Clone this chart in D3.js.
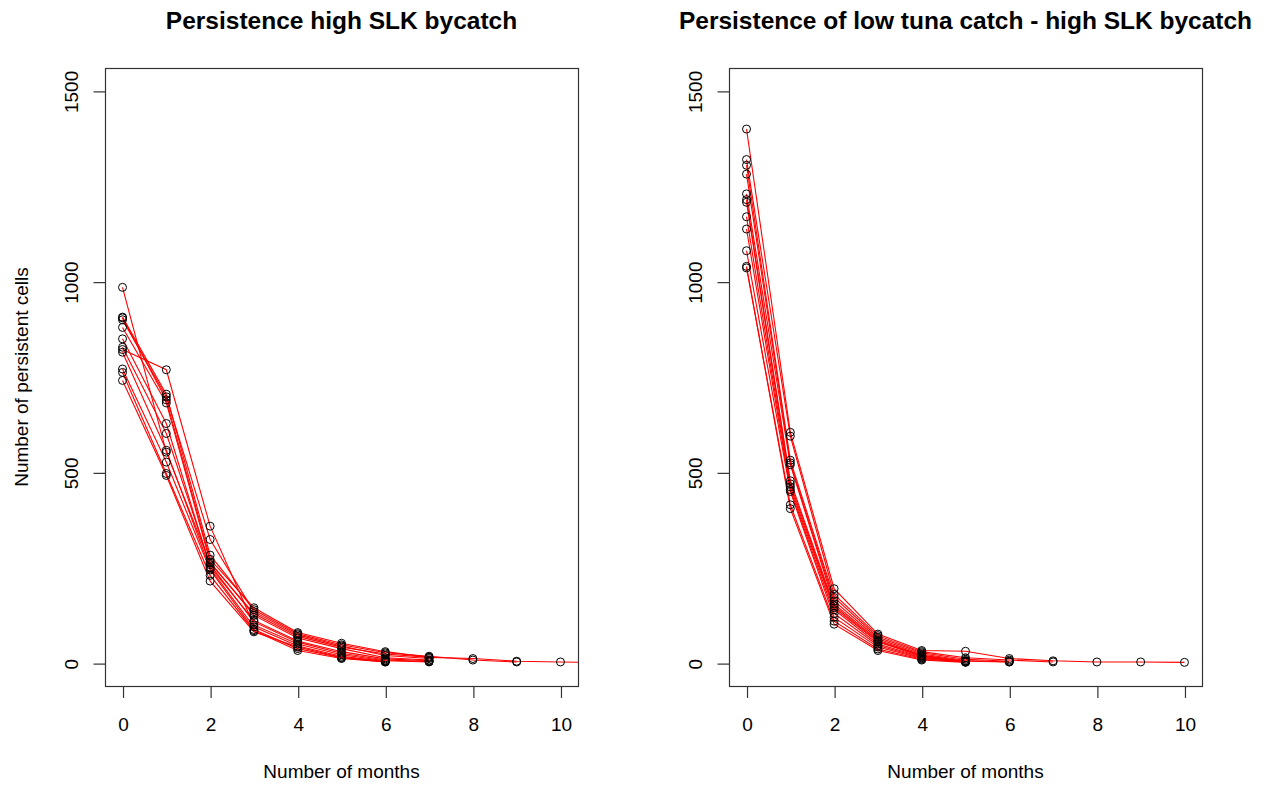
<!DOCTYPE html>
<html><head><meta charset="utf-8">
<script src="https://cdn.jsdelivr.net/npm/d3@7"></script>
<style>
body{margin:0;background:#fff}
svg{display:block}
text{font-family:"Liberation Sans",Arial,Helvetica,sans-serif;fill:#000}
</style></head>
<body><svg id="c" width="1265" height="786"></svg>
<script>
const months = [0,1,2,3,4,5,6,7,8,9,10,11];
const leftTitle = "Persistence high SLK bycatch";
const rightTitle = "Persistence of low tuna catch - high SLK bycatch";
const xLabel = "Number of months";
const yLabel = "Number of persistent cells";
const xTicks = [0,2,4,6,8,10];
const yTicks = [0,500,1000,1500];

// Left panel: persistent cells per series, indexed by month
const leftSeries = [
  [985, 553, 262, 130, 70, 42, 24, 15, 12, 5, 3, 1],
  [907, 705, 283, 140, 77, 48, 27, 18, 8, 3],
  [905, 690, 272, 145, 80, 52, 30, 15],
  [900, 698, 324, 135, 74, 45, 20, 12],
  [880, 682, 265, 125, 66, 38, 14, 8],
  [850, 628, 252, 112, 58, 30, 11, 6],
  [828, 602, 258, 108, 55, 26, 8, 4],
  [822, 769, 359, 100, 50, 22, 6, 3],
  [815, 558, 248, 95, 45, 18, 4],
  [771, 527, 244, 88, 38, 14, 3],
  [762, 497, 230, 85, 33, 12, 3],
  [741, 492, 215, 82, 42, 15, 5]
];

// Right panel
const rightSeries = [
  [1400, 605, 195, 76, 33, 31, 12, 6, 3, 3, 2],
  [1320, 595, 180, 72, 30, 14, 8, 3],
  [1305, 532, 172, 68, 27, 10, 5],
  [1282, 525, 163, 64, 24, 7, 3],
  [1230, 520, 155, 60, 21, 5, 3],
  [1215, 478, 150, 57, 19, 4],
  [1208, 470, 145, 55, 18, 4],
  [1170, 462, 140, 50, 16, 3],
  [1138, 455, 130, 46, 14, 5],
  [1081, 450, 120, 42, 12, 3],
  [1036, 415, 110, 37, 10, 4],
  [1040, 405, 102, 33, 8, 2]
];

const svg = d3.select("#c");
svg.append("rect").attr("width",1265).attr("height",786).attr("fill","#fff");

const W = 473, TOP = 68, BOT = 686;

function panel(x0, title, series, showYLabel, id) {
  const x = d3.scaleLinear().domain([-0.4, 10.4]).range([x0, x0 + W]);
  const y = d3.scaleLinear().domain([-60, 1560]).range([BOT, TOP]);
  const g = svg.append("g");

  g.append("clipPath").attr("id", id).append("rect")
    .attr("x", x0).attr("y", TOP).attr("width", W).attr("height", BOT - TOP);

  const line = d3.line().x((d, i) => x(months[i])).y(d => y(d));
  const plot = g.append("g").attr("clip-path", `url(#${id})`);
  plot.selectAll("path.s").data(series).join("path")
    .attr("class", "s").attr("d", line)
    .attr("fill", "none").attr("stroke", "#ff0000").attr("stroke-width", 1.1);

  const pts = [];
  series.forEach(s => s.forEach((v, i) => { if (months[i] <= 10) pts.push([months[i], v]); }));
  plot.selectAll("circle").data(pts).join("circle")
    .attr("cx", d => x(d[0])).attr("cy", d => y(d[1])).attr("r", 4)
    .attr("fill", "none").attr("stroke", "#000").attr("stroke-width", 1);

  // box
  g.append("rect").attr("x", x0 + 0.5).attr("y", TOP + 0.5)
    .attr("width", W).attr("height", BOT - TOP)
    .attr("fill", "none").attr("stroke", "#333").attr("stroke-width", 1.2);

  // x axis
  const xa = g.append("g").attr("transform", `translate(0.5,${BOT + 0.5})`)
    .call(d3.axisBottom(x).tickValues(xTicks).tickSize(11.5).tickFormat(d3.format("d")));
  xa.select(".domain").remove();
  xa.selectAll("line").attr("stroke", "#333").attr("stroke-width", 1.2);
  xa.selectAll("text").attr("y", 44).attr("dy", null)
    .attr("font-size", 19).attr("font-family", '"Liberation Sans",Arial,sans-serif').attr("fill", "#000");

  // y axis
  const ya = g.append("g").attr("transform", `translate(${x0 + 0.5},0.5)`)
    .call(d3.axisLeft(y).tickValues(yTicks).tickSize(12).tickFormat(d3.format("d")));
  ya.select(".domain").remove();
  ya.selectAll("line").attr("stroke", "#333").attr("stroke-width", 1.2);
  ya.selectAll("text").attr("x", null).attr("dy", null)
    .attr("transform", "translate(-28,0) rotate(-90)")
    .attr("text-anchor", "middle")
    .attr("font-size", 19).attr("font-family", '"Liberation Sans",Arial,sans-serif').attr("fill", "#000");

  // title
  g.append("text").attr("x", x0 + W / 2).attr("y", 29).attr("text-anchor", "middle")
    .attr("font-size", 24.5).attr("font-weight", "bold").text(title);

  // x label
  g.append("text").attr("x", x0 + W / 2).attr("y", 778).attr("text-anchor", "middle")
    .attr("font-size", 19).text(xLabel);

  if (showYLabel) {
    g.append("text").attr("transform", `translate(28,${(TOP + BOT) / 2}) rotate(-90)`)
      .attr("text-anchor", "middle").attr("font-size", 19).text(yLabel);
  }
}

panel(105, leftTitle, leftSeries, true, "clipL");
panel(729, rightTitle, rightSeries, false, "clipR");
</script></body></html>
